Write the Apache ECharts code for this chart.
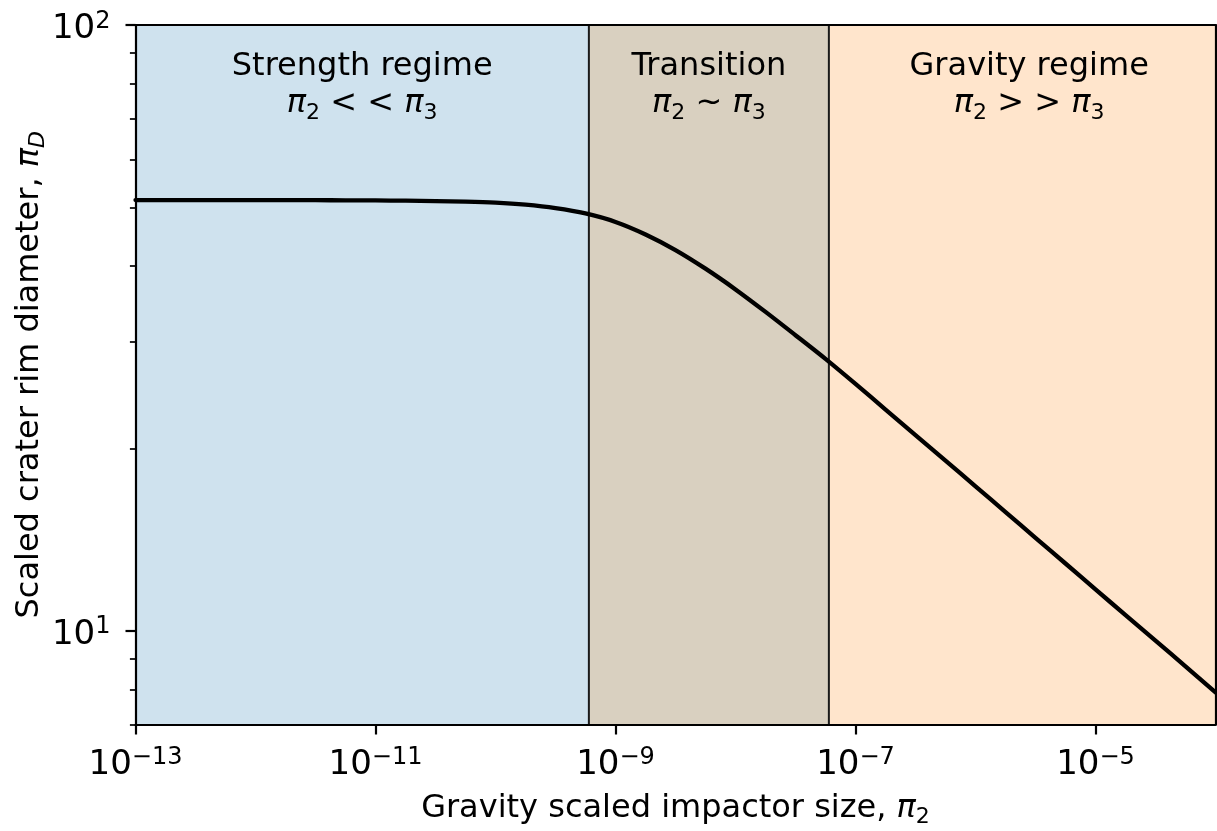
<!DOCTYPE html>
<html><head><meta charset="utf-8">
<script src="https://cdn.jsdelivr.net/npm/echarts@6/dist/echarts.min.js"></script>
<style>html,body{margin:0;padding:0;background:#fff}#c{width:1217px;height:831px}</style>
</head><body><div id="c"></div>
<script>
// ---- data ----
const piX = [1e-13, 1.78e-13, 3.16e-13, 5.62e-13, 1e-12, 1.78e-12, 3.16e-12, 5.62e-12,
  1e-11, 1.78e-11, 3.16e-11, 5.62e-11, 1e-10, 1.78e-10, 3.16e-10, 5.62e-10,
  1e-9, 1.78e-9, 3.16e-9, 5.62e-9, 1e-8, 1.78e-8, 3.16e-8, 5.62e-8,
  1e-7, 1.78e-7, 3.16e-7, 5.62e-7, 1e-6, 1.78e-6, 3.16e-6, 5.62e-6,
  1e-5, 1.78e-5, 3.16e-5, 5.62e-5, 1e-4];
const piD = [51.4, 51.4, 51.4, 51.4, 51.39, 51.38, 51.37, 51.35,
  51.32, 51.28, 51.2, 51.1, 50.9, 50.5, 49.85, 48.85,
  47.3, 45.1, 42.5, 39.6, 36.6, 33.6, 30.75, 28.1,
  25.55, 23.18, 21.04, 19.09, 17.31, 15.7, 14.23, 12.91,
  11.7, 10.61, 9.63, 8.73, 7.91];
const regionNames = ['Strength regime', 'Transition', 'Gravity regime'];
const regionRelations = ['< <', '~', '> >'];
const regionBounds = [1e-13, 6e-10, 6e-8, 1e-4];
const regionColors = ['#cfe2ee', '#d9d0c0', '#ffe5cc'];
const xTickValues = [1e-13, 1e-11, 1e-9, 1e-7, 1e-5];
const xTickExponents = ['−13', '−11', '−9', '−7', '−5'];
const yTickValues = [10, 100];
const yTickExponents = ['1', '2'];
const yMinorTickValues = [7, 8, 9, 20, 30, 40, 50, 60, 70, 80, 90];
const xRange = [1e-13, 1e-4];
const yRange = [7, 100];

const FONT = 'DejaVu Sans';
const mainRich = {
  t: {fontFamily: FONT, fontSize: 32, color: '#000', lineHeight: 37, verticalAlign: 'top'},
  p: {fontFamily: FONT, fontSize: 32, fontStyle: 'italic', color: '#000', lineHeight: 37, verticalAlign: 'top'},
  s: {fontFamily: FONT, fontSize: 22, color: '#000', lineHeight: 22, verticalAlign: 'top', padding: [14, 0, 0, 0]},
  si: {fontFamily: FONT, fontSize: 22, fontStyle: 'italic', color: '#000', lineHeight: 22, verticalAlign: 'top', padding: [14, 0, 0, 0]}
};
const tickRich = {
  b: {fontFamily: FONT, fontSize: 34, color: '#000', lineHeight: 36, verticalAlign: 'top', padding: [3, 0, 0, 0]},
  e: {fontFamily: FONT, fontSize: 24, color: '#000', lineHeight: 24, verticalAlign: 'top'}
};
function idxOf(arr, v) {
  let best = 0, d = Infinity;
  arr.forEach((a, i) => { const dd = Math.abs(Math.log10(a) - Math.log10(v)); if (dd < d) { d = dd; best = i; } });
  return best;
}

const areas = regionNames.map((name, i) => [
  {
    xAxis: regionBounds[i],
    itemStyle: {color: regionColors[i]},
    label: {
      show: true, position: 'insideTop', distance: 26, offset: [i === 2 ? 7 : 0, 0],
      formatter: '{t|' + name + '}\n{p|π}{s|2}{t| ' + regionRelations[i] + ' }{p|π}{s|3}',
      rich: mainRich, align: 'center'
    }
  },
  {xAxis: regionBounds[i + 1]}
]);

const boundarySeries = [regionBounds[1], regionBounds[2]].map(b => ({
  type: 'line', data: [[b, yRange[0]], [b, yRange[1]]],
  showSymbol: false, silent: true, z: 4,
  lineStyle: {color: '#1a1a1a', width: 2}
}));

const chart = echarts.init(document.getElementById('c'), null, {renderer: 'canvas'});
chart.setOption({
  animation: false,
  grid: {left: 135.5, right: 1.5, top: 25, bottom: 106.5, containLabel: false, outerBoundsMode: 'none'},
  xAxis: [
    {
      type: 'log', logBase: 10, min: xRange[0], max: xRange[1], position: 'bottom', z: 10,
      axisLine: {show: true, onZero: false, lineStyle: {color: '#000', width: 2.2}},
      axisTick: {show: true, customValues: xTickValues, length: 10, lineStyle: {color: '#000', width: 2.2}},
      axisLabel: {
        show: true, customValues: xTickValues, margin: 21, hideOverlap: false,
        fontFamily: FONT, fontSize: 34, color: '#000',
        formatter: v => '{b|10}{e|' + xTickExponents[idxOf(xTickValues, v)] + '}',
        rich: tickRich
      },
      splitLine: {show: false}, minorTick: {show: false},
      name: '{t|Gravity scaled impactor size, }{p|π}{s|2}', nameLocation: 'middle', nameGap: 68,
      nameMoveOverlap: false,
      nameTextStyle: {rich: mainRich}
    },
    {
      type: 'log', logBase: 10, min: xRange[0], max: xRange[1], position: 'top', z: 10,
      axisLine: {show: true, onZero: false, lineStyle: {color: '#000', width: 2.2}},
      axisTick: {show: false}, axisLabel: {show: false}, splitLine: {show: false}
    }
  ],
  yAxis: [
    {
      type: 'log', logBase: 10, min: yRange[0], max: yRange[1], position: 'left', z: 10,
      axisLine: {show: true, onZero: false, lineStyle: {color: '#000', width: 2.2}},
      axisTick: {show: true, customValues: yTickValues, length: 10, lineStyle: {color: '#000', width: 2.2}},
      axisLabel: {
        show: true, customValues: yTickValues, margin: 25, padding: [5, 0, 0, 0],
        fontFamily: FONT, fontSize: 34, color: '#000',
        formatter: v => '{b|10}{e|' + yTickExponents[idxOf(yTickValues, v)] + '}',
        rich: tickRich
      },
      splitLine: {show: false},
      name: '{t|Scaled crater rim diameter, }{p|π}{si|D}', nameLocation: 'middle', nameGap: 85, nameRotate: 90,
      nameMoveOverlap: false,
      nameTextStyle: {rich: mainRich}
    },
    {
      type: 'log', logBase: 10, min: yRange[0], max: yRange[1], position: 'left', z: 10,
      axisLine: {show: false},
      axisTick: {show: true, customValues: yMinorTickValues, length: 5.6, lineStyle: {color: '#000', width: 1.7}},
      axisLabel: {show: false}, splitLine: {show: false}
    },
    {
      type: 'log', logBase: 10, min: yRange[0], max: yRange[1], position: 'right', z: 10,
      axisLine: {show: true, onZero: false, lineStyle: {color: '#000', width: 2.2}},
      axisTick: {show: false}, axisLabel: {show: false}, splitLine: {show: false}
    }
  ],
  series: [{
    type: 'line',
    data: piX.map((x, i) => [x, piD[i]]),
    xAxisIndex: 0, yAxisIndex: 0,
    showSymbol: false, smooth: 0.3,
    lineStyle: {color: '#000', width: 4.3, cap: 'round', join: 'round'},
    z: 5,
    markArea: {silent: true, data: areas}
  }].concat(boundarySeries)
});
</script>
</body></html>
